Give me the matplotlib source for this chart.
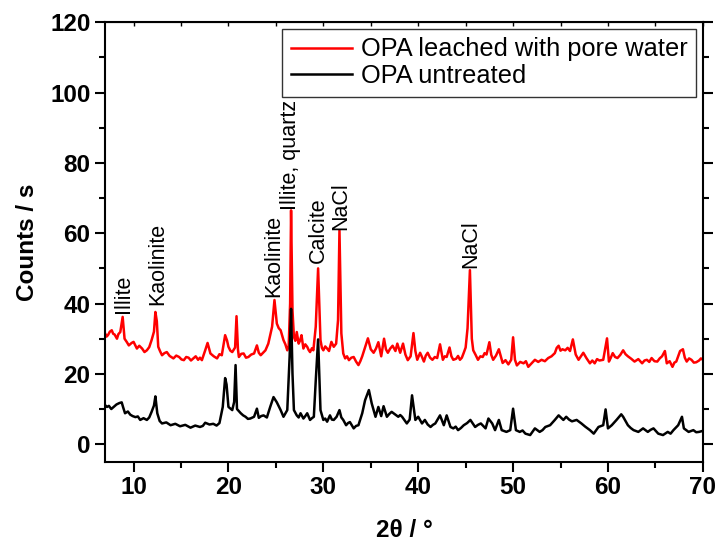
import matplotlib
matplotlib.use("Agg")
import matplotlib.pyplot as plt
from matplotlib.ticker import MultipleLocator

plt.rcParams['font.family'] = ['Liberation Sans', 'DejaVu Sans']

# 2theta / counts
two_theta_leached = [
    7.0, 7.15, 7.3, 7.5, 7.7, 7.85, 8.0, 8.25, 8.4, 8.6, 8.85, 9.05, 9.3, 9.5, 9.8,
    10.0, 10.2, 10.35, 10.6, 10.9, 11.15, 11.4, 11.65, 11.9, 12.15, 12.3, 12.45,
    12.6, 12.8, 13.0, 13.25, 13.5, 13.8, 14.2, 14.5, 14.8, 15.05, 15.3, 15.55, 15.8,
    16.05, 16.3, 16.55, 16.8, 17.0, 17.2, 17.55, 17.8, 18.1, 18.45, 18.8, 19.05,
    19.3, 19.65, 19.85, 20.0, 20.2, 20.4, 20.7, 20.85, 21.0, 21.1, 21.35, 21.6,
    21.85, 22.1, 22.4, 22.7, 23.0, 23.2, 23.4, 23.65, 23.9, 24.2, 24.6, 24.85, 25.1,
    25.3, 25.5, 25.8, 26.0, 26.2, 26.35, 26.5, 26.6, 26.75, 26.9, 27.05, 27.2,
    27.4, 27.55, 27.7, 27.9, 28.1, 28.3, 28.45, 28.6, 28.8, 28.95, 29.2, 29.45,
    29.7, 29.85, 30.0, 30.2, 30.4, 30.6, 30.85, 31.1, 31.35, 31.55, 31.7, 31.9,
    32.1, 32.3, 32.5, 32.7, 32.95, 33.2, 33.45, 33.7, 33.9, 34.1, 34.4, 34.7, 35.0,
    35.3, 35.55, 35.8, 36.1, 36.4, 36.6, 36.8, 37.05, 37.3, 37.6, 37.8, 38.1, 38.4,
    38.65, 38.9, 39.2, 39.5, 39.7, 39.9, 40.2, 40.4, 40.6, 40.8, 41.0, 41.25, 41.5,
    41.75, 42.0, 42.3, 42.6, 42.8, 43.0, 43.3, 43.5, 43.7, 44.0, 44.2, 44.4, 44.6,
    44.8, 45.0, 45.2, 45.45, 45.65, 45.8, 46.05, 46.3, 46.55, 46.8, 47.0, 47.2,
    47.5, 47.7, 47.9, 48.2, 48.5, 48.7, 48.9, 49.2, 49.5, 49.8, 50.0, 50.2, 50.4,
    50.75, 51.1, 51.35, 51.6, 51.95, 52.3, 52.65, 53.0, 53.35, 53.7, 54.05, 54.4,
    54.6, 54.8, 55.0, 55.2, 55.5, 55.75, 56.0, 56.3, 56.6, 56.9, 57.15, 57.4, 57.75,
    58.1, 58.35, 58.6, 58.85, 59.1, 59.5, 59.9, 60.1, 60.3, 60.5, 60.75, 61.0, 61.3,
    61.6, 61.85, 62.1, 62.45, 62.8, 63.2, 63.6, 63.85, 64.1, 64.35, 64.6, 64.9,
    65.2, 65.45, 65.7, 66.0, 66.2, 66.5, 66.8, 67.0, 67.2, 67.4, 67.6, 67.9, 68.1,
    68.3, 68.55, 68.8, 69.05, 69.3, 69.6, 69.8, 70.0,
]
counts_leached = [
    31.5, 30.6, 31.0, 32.0, 32.4, 31.4, 31.2, 30.0, 31.3, 31.9, 36.2, 30.0, 29.0, 28.1, 28.8,
    29.1, 28.0, 27.2, 28.0, 27.2, 26.2, 26.7, 27.6, 29.6, 32.0, 37.6, 35.0,
    27.7, 26.4, 25.3, 25.9, 26.2, 25.1, 24.4, 25.2, 24.8, 24.1, 23.9, 24.8, 24.6,
    23.8, 24.4, 25.0, 24.0, 24.6, 23.9, 26.7, 28.8, 25.8, 25.0, 24.4, 25.6,
    25.3, 31.0, 29.5, 27.7, 26.6, 26.2, 27.5, 36.4, 27.0, 24.8, 25.7, 25.8,
    24.6, 24.8, 25.5, 25.8, 28.1, 26.0, 25.3, 26.0, 26.7, 28.6, 33.4, 41.0, 34.3,
    33.0, 32.4, 29.6, 28.4, 26.7, 28.0, 40.0, 66.5, 38.0, 30.5, 29.4, 31.9,
    28.6, 29.5, 31.0, 27.2, 28.4, 27.7, 26.8, 26.2, 27.3, 26.7, 33.4, 50.0,
    29.6, 27.4, 26.7, 27.8, 27.2, 26.5, 29.1, 27.7, 28.6, 35.3, 60.8, 31.5,
    25.8, 24.4, 25.0, 23.9, 24.6, 24.8, 23.5, 22.5, 23.6, 25.0, 27.5, 30.1, 27.0,
    26.0, 27.2, 29.0, 25.0, 30.0, 27.0, 26.0, 27.2, 28.0, 26.5, 28.6, 26.0, 28.6,
    25.5, 23.9, 25.0, 31.6, 26.5, 24.0, 26.0, 24.8, 23.5, 25.2, 26.0, 24.6, 24.0,
    24.8, 24.5, 28.4, 24.0, 25.0, 24.8, 27.5, 25.0, 24.0, 24.3, 25.1, 24.0, 24.6,
    26.0, 27.5, 33.0, 49.5, 30.0, 26.7, 25.4, 24.0, 25.0, 24.8, 25.9, 25.5,
    29.0, 25.4, 24.0, 25.2, 27.0, 25.0, 23.1, 23.9, 22.7, 24.0, 30.4, 24.0, 22.4,
    23.4, 23.0, 23.6, 22.0, 23.0, 24.0, 23.4, 24.0, 23.6, 24.5, 25.0, 25.9,
    27.4, 28.0, 26.6, 27.0, 26.7, 27.4, 26.5, 29.8, 25.5, 24.0, 25.0, 26.0, 24.4,
    23.0, 23.8, 23.0, 24.2, 23.8, 24.0, 30.1, 23.5, 24.6, 25.9, 24.8, 24.5, 25.4,
    26.7, 25.6, 25.0, 24.3, 23.5, 24.2, 23.0, 23.8, 24.0, 23.4, 24.5, 23.6,
    23.5, 24.4, 25.0, 26.5, 23.0, 23.6, 22.0, 23.2, 23.5, 25.0, 26.5, 27.0, 24.6,
    23.5, 24.4, 24.0, 23.2, 23.3, 23.8, 24.4, 24.0,
]

two_theta_untreated = [
    7.0, 7.2, 7.4, 7.65, 7.9, 8.2, 8.5, 8.75, 8.9, 9.1, 9.4, 9.65, 9.9, 10.2, 10.45,
    10.7, 11.05, 11.4, 11.65, 11.9, 12.15, 12.3, 12.5, 12.75, 13.0, 13.45, 13.9,
    14.4, 14.9, 15.45, 16.0, 16.5, 17.0, 17.3, 17.55, 18.0, 18.4, 18.75, 19.05, 19.4,
    19.65, 19.8, 20.0, 20.4, 20.6, 20.75, 20.9, 21.3, 21.55, 21.8, 22.05, 22.3,
    22.7, 23.0, 23.2, 23.45, 23.7, 24.05, 24.4, 24.75, 25.1, 25.5, 25.8, 26.2, 26.45,
    26.6, 26.75, 26.9, 27.2, 27.4, 27.6, 27.9, 28.1, 28.3, 28.6, 28.8, 29.0, 29.2,
    29.45, 29.6, 29.7, 30.0, 30.2, 30.4, 30.7, 30.9, 31.1, 31.4, 31.7, 31.9, 32.1,
    32.4, 32.6, 32.8, 33.2, 33.45, 33.7, 34.1, 34.4, 34.8, 35.1, 35.5, 35.8, 36.1,
    36.35, 36.7, 36.95, 37.2, 37.6, 37.9, 38.1, 38.3, 38.8, 39.1, 39.35, 39.7, 40.0,
    40.4, 40.7, 41.0, 41.3, 41.55, 41.8, 42.3, 42.7, 43.0, 43.4, 43.7, 43.95, 44.2,
    44.5, 44.8, 45.15, 45.5, 46.0, 46.3, 46.6, 47.1, 47.4, 47.8, 48.1, 48.5, 48.8,
    49.3, 49.7, 50.0, 50.3, 50.7, 51.0, 51.3, 51.8, 52.3, 52.8, 53.1, 53.4, 53.9,
    54.4, 54.8, 55.3, 55.6, 55.9, 56.2, 56.7, 57.2, 57.6, 58.1, 58.5, 59.0, 59.5,
    59.75, 60.0, 60.4, 60.9, 61.4, 61.6, 62.1, 62.4, 62.7, 63.2, 63.7, 64.2, 64.5,
    64.8, 65.3, 65.8, 66.3, 66.6, 66.9, 67.4, 67.8, 68.0, 68.5, 69.0, 69.3, 69.6, 70.0,
]
counts_untreated = [
    11.1, 10.6, 10.9, 10.0, 10.6, 11.3, 11.7, 11.9, 10.5, 8.8, 9.3, 8.4, 8.0, 7.7, 7.9,
    6.9, 7.4, 6.9, 7.6, 9.2, 11.0, 13.6, 8.8, 6.6, 5.9, 6.2, 5.4,
    5.8, 5.1, 5.5, 4.7, 5.3, 4.9, 5.2, 6.1, 5.6, 5.8, 5.3, 6.0, 10.6,
    18.8, 17.0, 10.6, 9.7, 12.0, 22.5, 10.0, 8.8, 8.2, 7.8, 7.2, 7.3,
    7.8, 10.1, 7.5, 8.0, 8.2, 7.6, 10.6, 13.4, 11.9, 9.7, 7.8, 9.7, 25.0,
    38.5, 20.0, 9.7, 8.2, 7.6, 8.8, 7.3, 8.0, 8.8, 6.9, 7.4, 7.8, 18.0,
    29.8, 18.0, 9.7, 6.9, 7.3, 6.4, 8.2, 7.0, 6.9, 7.8, 9.7, 7.6, 6.9,
    5.4, 6.0, 6.3, 4.5, 5.2, 5.4, 8.8, 12.5, 15.4, 11.6, 7.8, 10.6, 8.0,
    10.8, 7.8, 8.6, 9.2, 8.4, 7.8, 8.3, 7.8, 5.9, 7.0, 13.9, 6.9, 7.8,
    5.9, 6.9, 5.6, 4.9, 5.5, 5.9, 8.2, 5.4, 8.2, 4.9, 4.5, 5.0, 4.0,
    4.6, 5.4, 6.0, 6.9, 4.9, 5.5, 5.9, 4.5, 7.3, 5.9, 4.0, 6.9, 4.0,
    3.5, 4.0, 10.1, 4.0, 3.5, 3.9, 3.0, 2.6, 4.5, 3.5, 4.0, 4.9, 5.4,
    6.9, 8.2, 6.9, 7.8, 7.0, 6.5, 6.9, 5.9, 5.0, 4.0, 3.0, 4.9, 5.4,
    9.9, 4.5, 5.4, 6.9, 8.5, 7.8, 5.4, 4.6, 4.0, 3.5, 4.5, 3.5, 4.1,
    4.5, 3.0, 2.6, 3.5, 3.0, 4.0, 5.4, 7.8, 4.5, 3.5, 4.0, 3.4, 3.5, 3.8,
]

# phase labels: text, 2theta, counts where the text starts
peak_names = ["Illite", "Kaolinite", "Kaolinite", "Illite, quartz", "Calcite", "NaCl", "NaCl"]
peak_x = [8.95, 12.5, 24.8, 26.5, 29.5, 31.8, 45.5]
peak_y = [37.2, 39.5, 41.8, 66.5, 51.5, 60.8, 50.0]

fig = plt.figure(figsize=(7.15, 5.42), dpi=100)
ax = fig.add_axes([0.147, 0.148, 0.836, 0.811])

ax.plot(two_theta_leached, counts_leached, color='#ff0000', lw=1.8,
        label='OPA leached with pore water')
ax.plot(two_theta_untreated, counts_untreated, color='black', lw=1.8,
        label='OPA untreated')

for name, px, py in zip(peak_names, peak_x, peak_y):
    ax.text(px, py, name, rotation=90, ha='center', va='bottom', fontsize=15.5)

ax.set_xlim(7, 70)
ax.set_ylim(-5, 120)
ax.xaxis.set_major_locator(MultipleLocator(10))
ax.xaxis.set_minor_locator(MultipleLocator(5))
ax.yaxis.set_major_locator(MultipleLocator(20))
ax.yaxis.set_minor_locator(MultipleLocator(10))

for s in ax.spines.values():
    s.set_linewidth(1.5)
ax.tick_params(which='both', direction='out', width=1.5, labelsize=17.5, right=True)
ax.tick_params(which='major', length=7)
ax.tick_params(which='minor', length=4)
for lab in ax.get_xticklabels() + ax.get_yticklabels():
    lab.set_fontweight('bold')

# top axis: short inward ticks, no labels
top = ax.secondary_xaxis('top')
top.xaxis.set_major_locator(MultipleLocator(5))
top.tick_params(direction='in', length=3, width=1.0, labeltop=False)

ax.set_xlabel('2θ / °', fontsize=17.5, fontweight='bold', labelpad=14)
ax.set_ylabel('Counts / s', fontsize=17.5, fontweight='bold', labelpad=8)

leg = ax.legend(loc='upper right', fontsize=18.3, frameon=True, fancybox=False,
                edgecolor='black', handlelength=2.4, handletextpad=0.35,
                labelspacing=0.1, borderpad=0.35, borderaxespad=0.25)
leg.get_frame().set_linewidth(1.0)

fig.savefig('out.png', dpi=100)
